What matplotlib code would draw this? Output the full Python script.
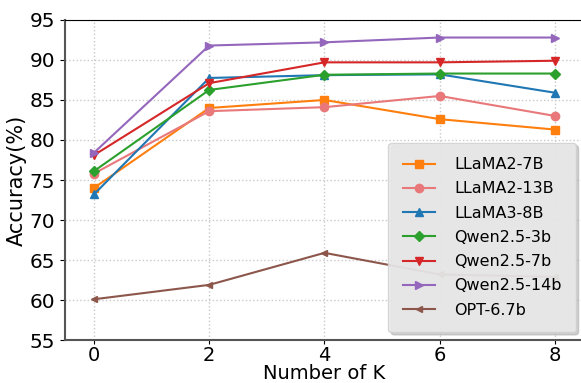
import matplotlib.pyplot as plt

k = [0, 2, 4, 6, 8]

llama2_7b = [74.0, 84.0, 85.0, 82.6, 81.3]
llama2_13b = [75.8, 83.6, 84.1, 85.5, 83.0]
llama3_8b = [73.2, 87.75, 88.1, 88.2, 85.9]
qwen_3b = [76.1, 86.25, 88.15, 88.3, 88.3]
qwen_7b = [78.1, 87.1, 89.7, 89.7, 89.9]
qwen_14b = [78.4, 91.8, 92.2, 92.8, 92.8]
opt_67b = [60.1, 61.9, 65.9, 63.2, 62.9]

names = ['LLaMA2-7B', 'LLaMA2-13B', 'LLaMA3-8B', 'Qwen2.5-3b',
         'Qwen2.5-7b', 'Qwen2.5-14b', 'OPT-6.7b']
series = [llama2_7b, llama2_13b, llama3_8b, qwen_3b, qwen_7b, qwen_14b, opt_67b]
colors = ['#ff7f0e', '#e8787a', '#1f77b4', '#2ca02c', '#d62728', '#9467bd', '#8c564b']
markers = ['s', 'o', '^', 'D', 'v', '>', '<']
sizes = [6, 6, 6, 5.5, 6, 6, 5]

fig = plt.figure(figsize=(5.81, 3.83), dpi=100)
ax = fig.add_axes([0.112, 0.112, 0.893, 0.836])

for y, name, c, m, s in zip(series, names, colors, markers, sizes):
    ax.plot(k, y, color=c, marker=m, markersize=s, linewidth=1.5, label=name)

ax.set_xlim(-0.5, 8.5)
ax.set_ylim(55, 95)
ax.set_xticks(k)
ax.set_yticks(range(55, 96, 5))
ax.tick_params(labelsize=14.5)
ax.tick_params(axis='x', labelsize=14, length=3, pad=1.5)
ax.set_xlabel('Number of K', fontsize=14, labelpad=-1)
ax.set_ylabel('Accuracy(%)', fontsize=15, labelpad=2)
ax.grid(True, linestyle=':', color='#c8c8c8', linewidth=1)
ax.spines['left'].set_color('#555555')
ax.spines['bottom'].set_color('#555555')
ax.spines['left'].set_linewidth(1.5)
ax.spines['bottom'].set_linewidth(1.5)

leg = ax.legend(loc='lower right', bbox_to_anchor=(0.991, 0.133),
                bbox_transform=fig.transFigure, borderaxespad=0,
                fontsize=11.5, shadow={'color': '#b0b0b0', 'alpha': 0.6},
                facecolor='#ebebeb', framealpha=0.85, edgecolor='#d0d0d0',
                labelspacing=0.58, borderpad=0.9, handletextpad=1.2)

fig.savefig('out.png', dpi=100)
